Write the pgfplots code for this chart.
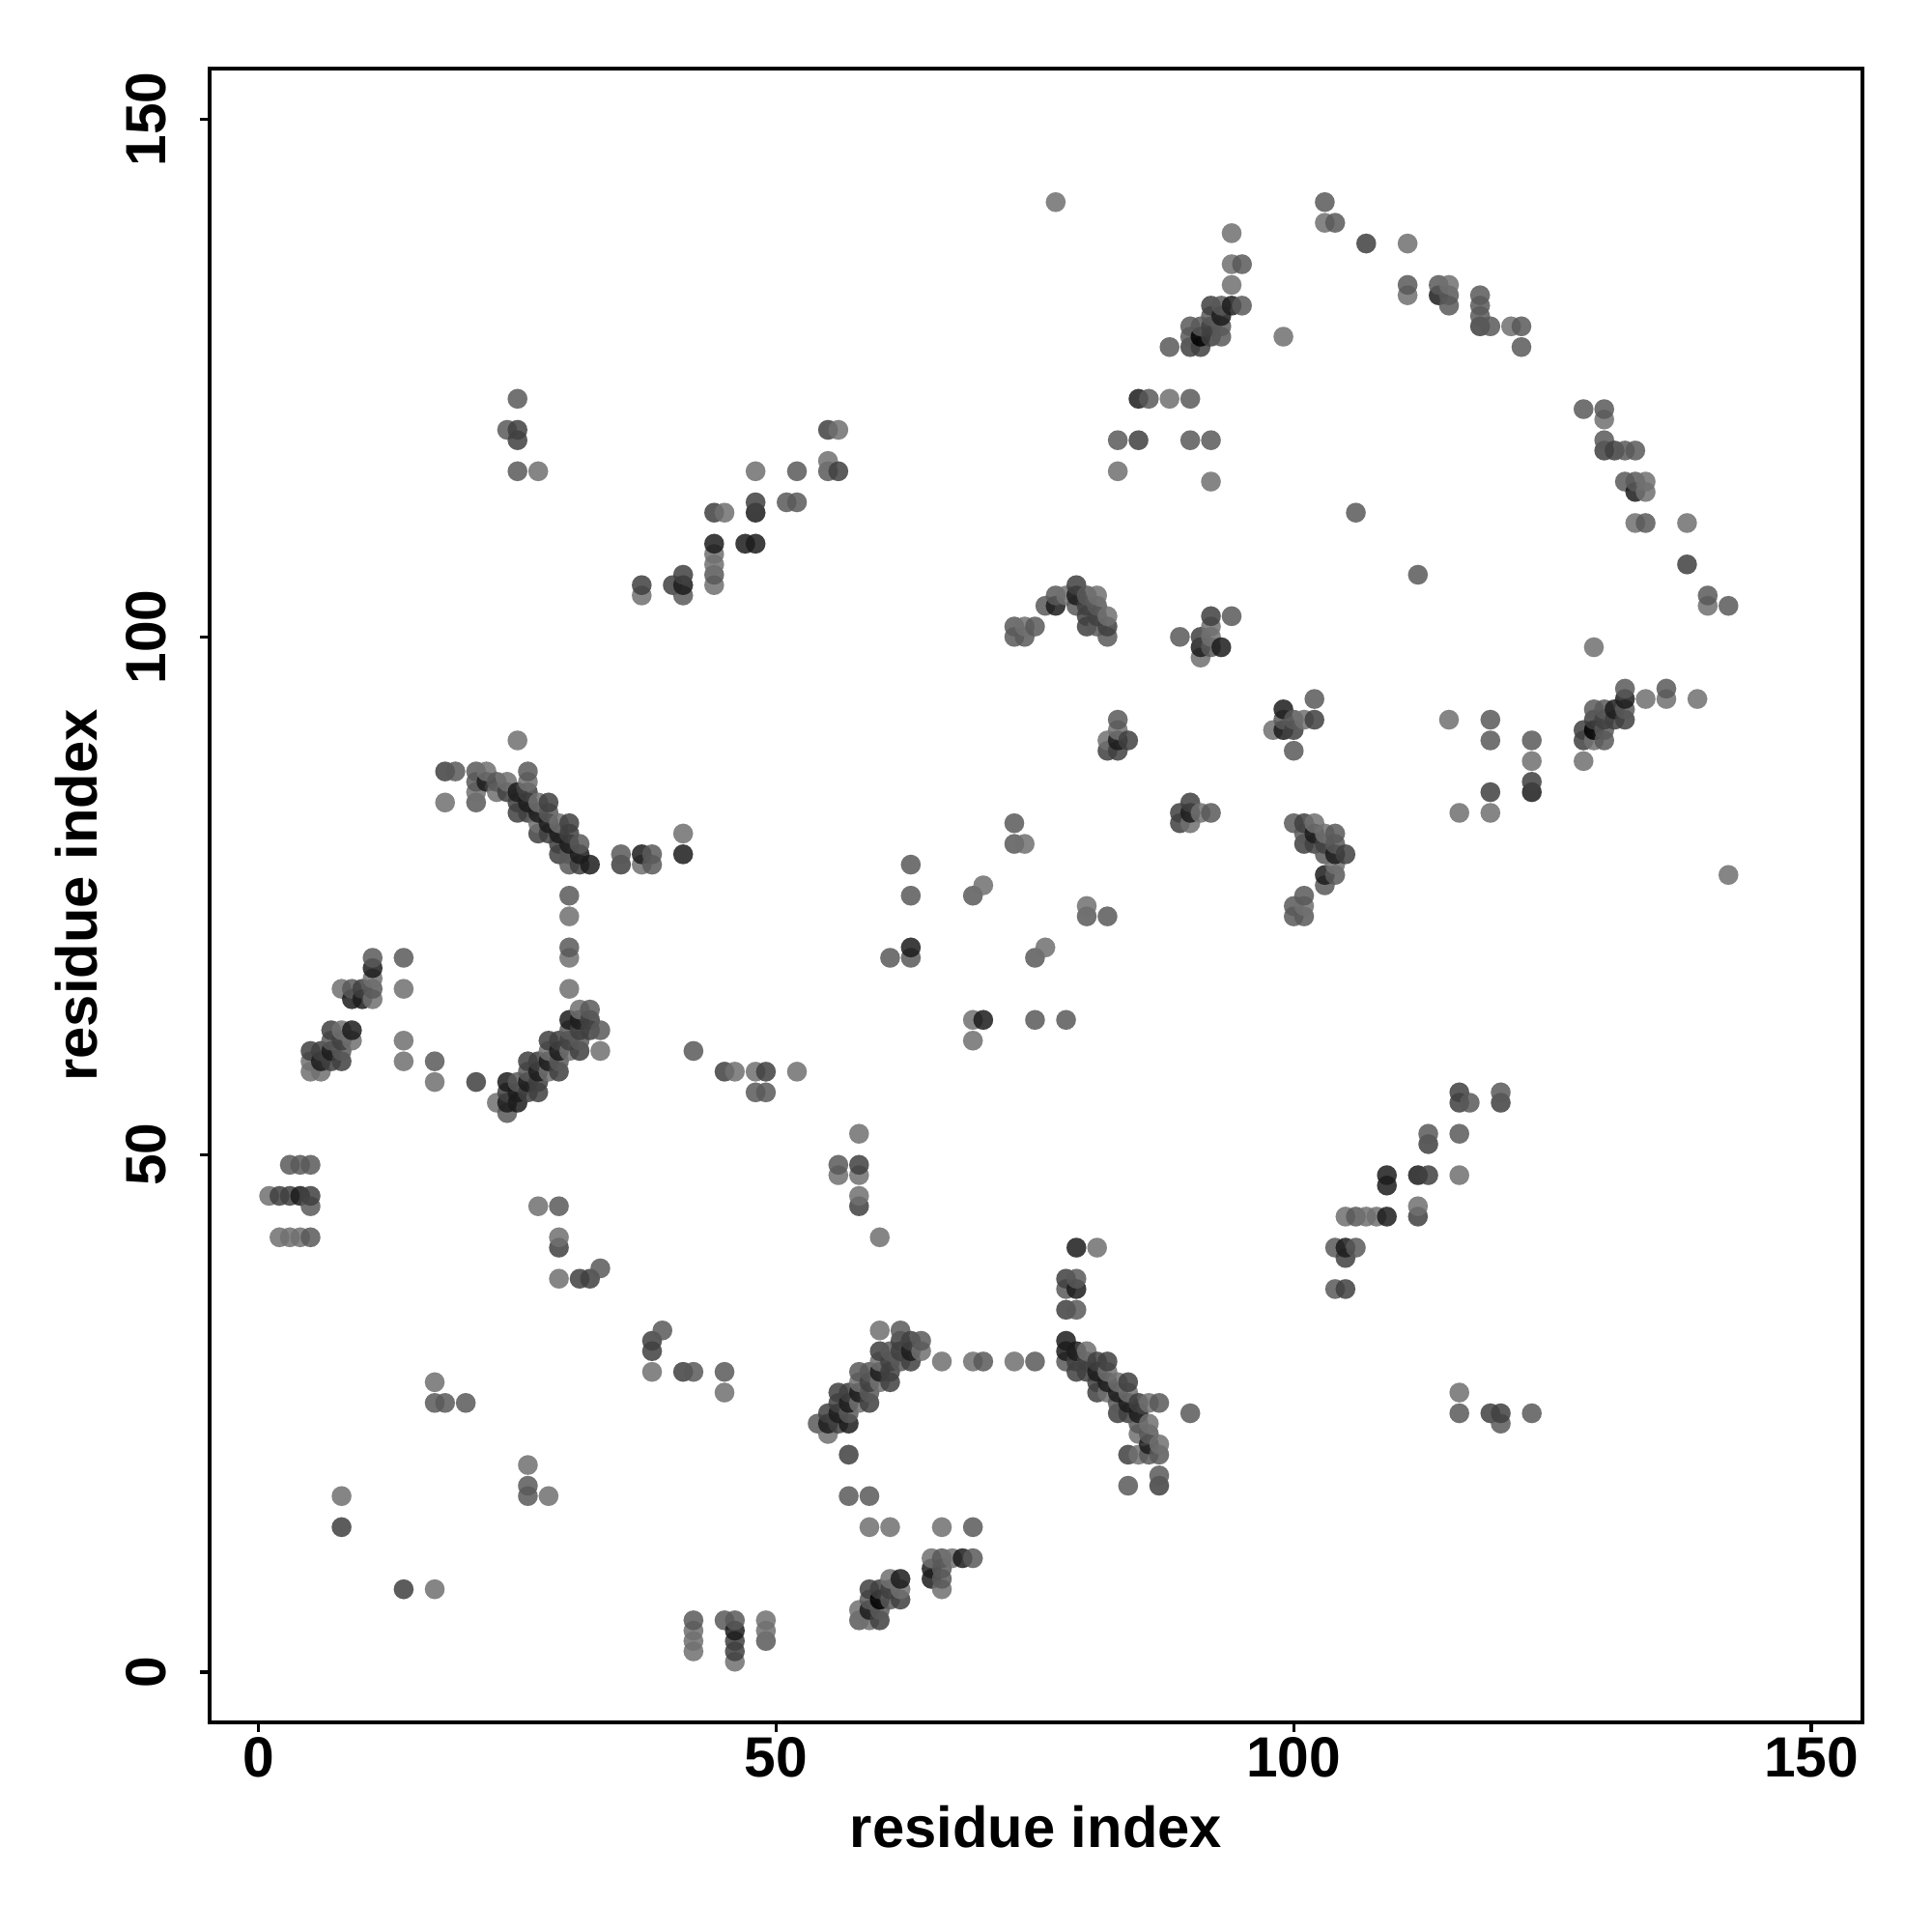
\documentclass[border=0pt]{standalone}
\usepackage{fontspec}
\setmainfont{Liberation Sans}
\usepackage{pgfplots}
\usepackage{pgfplotstable}
\pgfplotsset{compat=1.18}
\pgfplotstableread[row sep=\\, header=false]{
1 46 .41\\
2 42 .41\\ 2 46 .21\\
3 42 .41\\ 3 46 .21\\ 3 49 .32\\
4 42 .41\\ 4 46 .06\\ 4 49 .32\\
5 42 .32\\ 5 45 .32\\ 5 46 .21\\ 5 49 .32\\ 5 58 .41\\ 5 59 .41\\ 5 60 .21\\
6 58 .41\\ 6 59 .06\\ 6 60 .21\\
7 59 .21\\ 7 60 .06\\ 7 61 .32\\ 7 62 .21\\
8 14 .21\\ 8 17 .41\\ 8 59 .21\\ 8 60 .32\\ 8 61 .21\\ 8 62 .41\\ 8 66 .41\\
9 61 .41\\ 9 62 .06\\ 9 65 .06\\ 9 66 .32\\
10 65 .06\\ 10 66 .21\\
11 65 .41\\ 11 66 .32\\ 11 67 .41\\ 11 68 .06\\ 11 69 .32\\
14 8 .21\\ 14 59 .41\\ 14 61 .41\\ 14 66 .41\\ 14 69 .32\\
17 8 .41\\ 17 26 .32\\ 17 28 .41\\ 17 57 .41\\ 17 59 .32\\
18 26 .32\\ 18 84 .41\\ 18 87 .21\\
19 87 .32\\
20 26 .32\\
21 57 .21\\ 21 84 .32\\ 21 85 .41\\ 21 86 .32\\ 21 87 .32\\
22 86 .06\\ 22 87 .41\\
23 55 .41\\ 23 85 .41\\ 23 86 .32\\
24 54 .32\\ 24 55 .06\\ 24 56 .21\\ 24 57 .06\\ 24 85 .21\\ 24 86 .41\\ 24 120 .32\\
25 55 .06\\ 25 56 .06\\ 25 57 .32\\ 25 83 .21\\ 25 84 .21\\ 25 85 .06\\ 25 90 .41\\ 25 116 .32\\ 25 119 .21\\ 25 120 .21\\ 25 123 .32\\
26 17 .32\\ 26 18 .32\\ 26 20 .41\\ 26 56 .21\\ 26 57 .06\\ 26 58 .32\\ 26 59 .21\\ 26 83 .21\\ 26 84 .06\\ 26 85 .21\\ 26 86 .41\\ 26 87 .32\\
27 45 .41\\ 27 56 .21\\ 27 57 .21\\ 27 58 .06\\ 27 59 .21\\ 27 81 .21\\ 27 82 .41\\ 27 83 .06\\ 27 84 .41\\ 27 116 .41\\
28 17 .41\\ 28 58 .41\\ 28 59 .06\\ 28 60 .41\\ 28 61 .21\\ 28 81 .21\\ 28 82 .06\\ 28 83 .32\\ 28 84 .21\\
29 38 .41\\ 29 41 .21\\ 29 42 .41\\ 29 45 .32\\ 29 58 .21\\ 29 59 .32\\ 29 60 .06\\ 29 61 .21\\ 29 79 .21\\ 29 80 .21\\ 29 81 .06\\ 29 82 .41\\
30 60 .41\\ 30 61 .21\\ 30 62 .32\\ 30 63 .06\\ 30 66 .41\\ 30 69 .41\\ 30 70 .32\\ 30 73 .41\\ 30 75 .32\\ 30 78 .32\\ 30 79 .32\\ 30 80 .06\\ 30 81 .21\\ 30 82 .21\\
31 38 .21\\ 31 60 .21\\ 31 61 .32\\ 31 62 .21\\ 31 63 .06\\ 31 64 .41\\ 31 78 .21\\ 31 79 .06\\ 31 80 .32\\
32 38 .21\\ 32 62 .21\\ 32 63 .21\\ 32 64 .32\\ 32 78 .06\\
33 39 .32\\ 33 60 .41\\ 33 62 .32\\
35 78 .21\\ 35 79 .32\\
37 78 .41\\ 37 79 .06\\ 37 104 .41\\ 37 105 .21\\
38 29 .41\\ 38 31 .21\\ 38 32 .21\\ 38 78 .32\\ 38 79 .32\\
39 33 .32\\
40 105 .21\\
41 29 .21\\ 41 79 .06\\ 41 81 .41\\ 41 104 .32\\ 41 105 .06\\ 41 106 .21\\
42 2 .41\\ 42 3 .41\\ 42 4 .41\\ 42 5 .32\\ 42 29 .32\\ 42 60 .32\\
44 105 .41\\ 44 106 .32\\ 44 107 .41\\ 44 108 .41\\ 44 109 .06\\ 44 112 .21\\
45 5 .32\\ 45 27 .41\\ 45 29 .32\\ 45 58 .21\\ 45 112 .41\\
46 1 .41\\ 46 2 .21\\ 46 3 .21\\ 46 4 .06\\ 46 5 .32\\ 46 58 .41\\
47 109 .06\\
48 56 .32\\ 48 58 .41\\ 48 109 .06\\ 48 112 .06\\ 48 113 .21\\ 48 116 .41\\
49 3 .32\\ 49 4 .41\\ 49 5 .41\\ 49 56 .32\\ 49 58 .21\\
51 113 .32\\
52 58 .41\\ 52 113 .32\\ 52 116 .32\\
54 24 .32\\
55 23 .41\\ 55 24 .06\\ 55 25 .21\\ 55 116 .32\\ 55 117 .41\\ 55 120 .21\\
56 24 .21\\ 56 25 .06\\ 56 26 .21\\ 56 27 .21\\ 56 48 .41\\ 56 49 .32\\ 56 116 .21\\ 56 120 .41\\
57 17 .32\\ 57 21 .21\\ 57 24 .06\\ 57 25 .32\\ 57 26 .06\\ 57 27 .21\\
58 5 .32\\ 58 6 .41\\ 58 26 .41\\ 58 27 .06\\ 58 28 .41\\ 58 29 .32\\ 58 45 .21\\ 58 46 .41\\ 58 48 .41\\ 58 49 .21\\ 58 52 .41\\
59 5 .41\\ 59 6 .06\\ 59 7 .32\\ 59 8 .21\\ 59 14 .41\\ 59 17 .32\\ 59 26 .21\\ 59 27 .32\\ 59 28 .21\\ 59 29 .32\\
60 5 .21\\ 60 6 .32\\ 60 7 0\\ 60 8 .21\\ 60 28 .41\\ 60 29 .06\\ 60 30 .41\\ 60 31 .21\\ 60 33 .41\\ 60 42 .41\\
61 7 .32\\ 61 8 .21\\ 61 9 .41\\ 61 14 .41\\ 61 28 .21\\ 61 29 .21\\ 61 30 .21\\ 61 31 .32\\ 61 69 .32\\
62 7 .21\\ 62 8 .41\\ 62 9 .06\\ 62 30 .32\\ 62 31 .21\\ 62 32 .21\\ 62 33 .32\\
63 30 .21\\ 63 31 .06\\ 63 32 .21\\ 63 69 .32\\ 63 70 .06\\ 63 75 .32\\ 63 78 .32\\
64 31 .41\\ 64 32 .32\\
65 9 .06\\ 65 10 .06\\ 65 11 .41\\
66 8 .41\\ 66 9 .32\\ 66 10 .32\\ 66 11 .32\\ 66 14 .41\\ 66 30 .41\\
67 11 .41\\
68 11 .06\\
69 11 .32\\ 69 14 .32\\ 69 30 .41\\ 69 61 .41\\ 69 63 .41\\ 69 75 .32\\
70 30 .32\\ 70 63 .06\\ 70 76 .41\\
73 30 .41\\ 73 80 .32\\ 73 82 .32\\ 73 100 .32\\ 73 101 .32\\
74 80 .41\\ 74 100 .32\\ 74 101 .41\\
75 30 .32\\ 75 63 .32\\ 75 69 .32\\ 75 101 .32\\
76 70 .41\\ 76 103 .32\\
77 103 .06\\ 77 104 .32\\ 77 142 .41\\
78 30 .32\\ 78 31 .06\\ 78 32 .06\\ 78 35 .21\\ 78 37 .32\\ 78 38 .21\\ 78 63 .32\\ 78 104 .41\\
79 29 .21\\ 79 30 .21\\ 79 31 .06\\ 79 35 .32\\ 79 37 .06\\ 79 38 .32\\ 79 41 .06\\ 79 103 .32\\ 79 104 .06\\ 79 105 .21\\
80 29 .21\\ 80 30 .21\\ 80 31 .41\\ 80 73 .32\\ 80 74 .41\\ 80 101 .21\\ 80 102 .21\\ 80 103 .21\\ 80 104 .32\\
81 27 .21\\ 81 28 .21\\ 81 29 .06\\ 81 30 .21\\ 81 41 .41\\ 81 101 .32\\ 81 102 .21\\ 81 103 .32\\ 81 104 .41\\
82 27 .41\\ 82 28 .06\\ 82 29 .41\\ 82 30 .21\\ 82 73 .32\\ 82 89 .21\\ 82 90 .41\\ 82 100 .32\\ 82 101 .21\\ 82 102 .41\\
83 25 .21\\ 83 26 .32\\ 83 27 .06\\ 83 28 .41\\ 83 89 .21\\ 83 90 .06\\ 83 91 .41\\ 83 92 .32\\ 83 116 .41\\ 83 119 .32\\
84 18 .32\\ 84 21 .21\\ 84 25 .21\\ 84 26 .06\\ 84 27 .41\\ 84 28 .21\\ 84 90 .21\\
85 21 .41\\ 85 23 .41\\ 85 24 .32\\ 85 25 .06\\ 85 26 .21\\ 85 119 .21\\ 85 123 .06\\
86 21 .32\\ 86 22 .06\\ 86 23 .32\\ 86 24 .41\\ 86 26 .41\\ 86 123 .32\\
87 18 .21\\ 87 19 .32\\ 87 21 .32\\ 87 22 .41\\ 87 26 .32\\
88 123 .41\\ 88 128 .32\\
89 82 .21\\ 89 83 .21\\ 89 100 .32\\
90 25 .32\\ 90 82 .41\\ 90 83 .06\\ 90 84 .21\\ 90 119 .32\\ 90 123 .32\\ 90 128 .21\\ 90 129 .32\\ 90 130 .32\\
91 83 .41\\ 91 98 .41\\ 91 99 .06\\ 91 100 .21\\ 91 128 .21\\ 91 129 0\\ 91 130 .32\\
92 83 .32\\ 92 99 .32\\ 92 100 .41\\ 92 101 .41\\ 92 102 .21\\ 92 115 .41\\ 92 119 .32\\ 92 129 .21\\ 92 130 .21\\ 92 131 .32\\ 92 132 .21\\
93 99 .06\\ 93 129 .32\\ 93 130 .32\\ 93 131 .06\\ 93 132 .32\\
94 102 .32\\ 94 132 .06\\ 94 134 .41\\ 94 136 .41\\ 94 139 .41\\
95 132 .32\\ 95 136 .32\\
98 91 .41\\
99 91 .06\\ 99 92 .32\\ 99 93 .06\\ 99 129 .41\\
100 73 .32\\ 100 74 .32\\ 100 82 .32\\ 100 89 .32\\ 100 91 .21\\ 100 92 .32\\
101 73 .32\\ 101 74 .41\\ 101 75 .32\\ 101 80 .21\\ 101 81 .32\\ 101 82 .21\\ 101 92 .41\\
102 80 .21\\ 102 81 .06\\ 102 82 .41\\ 102 92 .21\\ 102 94 .32\\
103 76 .32\\ 103 77 .06\\ 103 79 .32\\ 103 80 .21\\ 103 81 .41\\ 103 140 .41\\ 103 142 .32\\
104 37 .32\\ 104 41 .32\\ 104 77 .32\\ 104 78 .41\\ 104 79 .06\\ 104 80 .32\\ 104 81 .32\\ 104 140 .32\\
105 37 .21\\ 105 40 .21\\ 105 41 .06\\ 105 44 .41\\ 105 79 .21\\
106 41 .32\\ 106 44 .32\\ 106 112 .32\\
107 44 .41\\ 107 138 .21\\
108 44 .41\\
109 44 .06\\ 109 47 .06\\ 109 48 .06\\
111 133 .41\\ 111 134 .32\\ 111 138 .41\\
112 44 .21\\ 112 45 .41\\ 112 48 .06\\ 112 106 .32\\
113 48 .21\\ 113 51 .21\\ 113 52 .32\\
114 133 .06\\ 114 134 .32\\
115 92 .41\\ 115 132 .32\\ 115 133 .32\\ 115 134 .41\\
116 25 .32\\ 116 27 .41\\ 116 48 .41\\ 116 52 .32\\ 116 55 .21\\ 116 56 .21\\ 116 83 .41\\
117 55 .32\\
118 130 .21\\ 118 131 .32\\ 118 132 .32\\ 118 133 .32\\
119 25 .21\\ 119 83 .41\\ 119 85 .21\\ 119 90 .32\\ 119 92 .32\\ 119 130 .32\\
120 24 .32\\ 120 25 .21\\ 120 55 .21\\ 120 56 .32\\
121 130 .41\\
122 128 .32\\ 122 130 .32\\
123 25 .32\\ 123 85 .06\\ 123 86 .21\\ 123 88 .41\\ 123 90 .32\\
128 88 .41\\ 128 90 .21\\ 128 91 .21\\ 128 122 .32\\
129 90 .41\\ 129 91 0\\ 129 92 .21\\ 129 93 .32\\ 129 99 .41\\
130 90 .32\\ 130 91 .32\\ 130 92 .21\\ 130 93 .32\\ 130 118 .21\\ 130 119 .32\\ 130 121 .41\\ 130 122 .32\\
131 92 .21\\ 131 93 .06\\ 131 118 .21\\
132 92 .21\\ 132 93 .32\\ 132 94 .06\\ 132 95 .32\\ 132 115 .32\\ 132 118 .32\\
133 111 .41\\ 133 114 .06\\ 133 115 .32\\ 133 118 .32\\
134 94 .41\\ 134 111 .32\\ 134 114 .41\\ 134 115 .41\\
136 94 .41\\ 136 95 .32\\
138 107 .21\\ 138 111 .41\\
139 94 .41\\
140 103 .41\\ 140 104 .32\\
142 77 .41\\ 142 103 .32\\
}\contacts
\begin{document}
\begin{tikzpicture}
\path[use as bounding box] (-2.17cm,-2.17cm) rectangle (17.83cm,17.83cm);
\begin{axis}[
  at={(0,0)}, anchor=south west, scale only axis,
  width=17.11cm, height=17.12cm,
  xmin=-4.75, xmax=154.95, ymin=-4.86, ymax=154.9,
  xtick={0,50,100,150}, ytick={0,50,100,150},
  tick align=outside, tick pos=left,
  major tick length=1mm,
  every tick/.style={black,line width=0.9pt},
  axis line style={line width=1.15pt},
  /pgf/number format/assume math mode=true,
  ticklabel style={font=\fontsize{16.7}{20}\selectfont\bfseries},
  xticklabel style={yshift=-2.6mm,anchor=center},
  yticklabel style={rotate=90,anchor=center,yshift=5.6mm},
  xlabel={residue index}, ylabel={residue index},
  label style={font=\fontsize{17}{20}\selectfont\bfseries},
  xlabel style={at={(axis description cs:0.5,-0.063)},anchor=center},
  ylabel style={at={(axis description cs:-0.0806,0.5)},anchor=center},
]
\addplot[only marks, scatter, scatter src=explicit, mark=*, mark size=2.9pt,
  colormap={bw}{gray(0cm)=(0); gray(6cm)=(0.11); gray(21cm)=(0.25); gray(32cm)=(0.35); gray(41cm)=(0.44); gray(100cm)=(1)},
  point meta min=0, point meta max=1,
  mark options={opacity=0.85},
  scatter/use mapped color={draw=mapped color,fill=mapped color,line width=0.01pt}]
  table[x index=0, y index=1, meta index=2] {\contacts};
\end{axis}
\end{tikzpicture}
\end{document}
